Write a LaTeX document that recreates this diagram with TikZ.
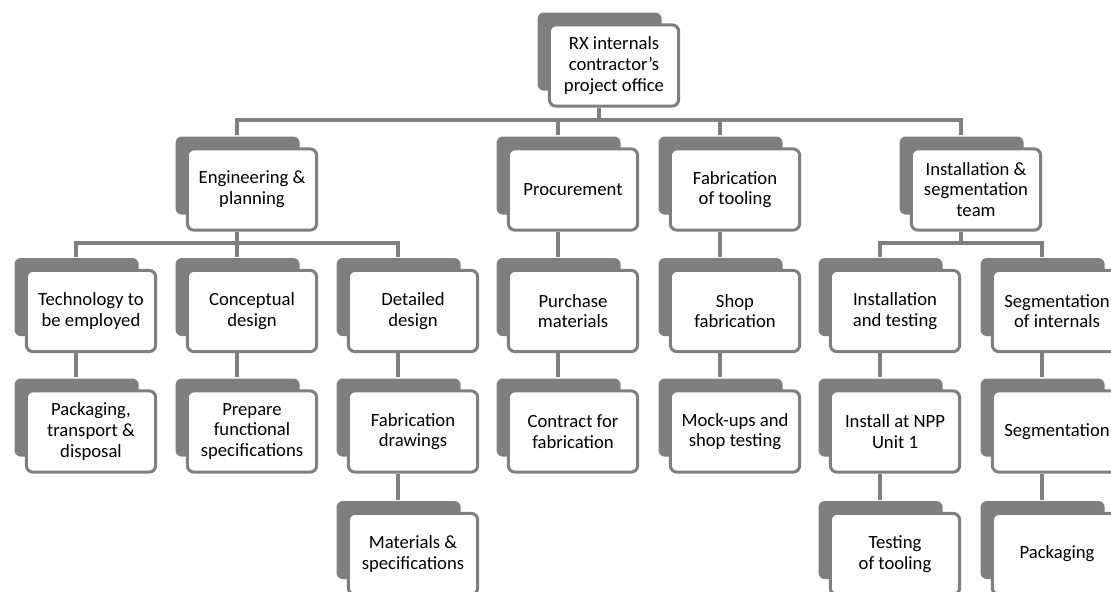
\documentclass[tikz,border=0pt]{standalone}
\usepackage{fontspec}
\setmainfont{Carlito}
\usetikzlibrary{shadows,calc}
\definecolor{boxgray}{RGB}{127,127,127}

\begin{document}
\begin{tikzpicture}[x=0.75pt,y=0.75pt,yscale=-1,xscale=1,
  card/.style={draw=boxgray, line width=2.25pt, fill=white, rounded corners=5pt,
    minimum width=97pt, minimum height=61pt, inner sep=0pt, align=center,
    font=\fontsize{14}{15.5}\selectfont,
    general shadow={fill=boxgray, shadow scale=0.96, shadow xshift=-11.25pt, shadow yshift=10.9pt}},
  link/.style={draw=boxgray, line width=3pt}]
\useasboundingbox (0,0) rectangle (1111,592);

% Level 1
\node[card] (top) at (614,65.5) {RX internals\\contractor’s\\project office};

% Level 2
\node[card] (eng) at (252,189.5) {Engineering \&\\planning};
\node[card] (proc) at (573,189.5) {Procurement};
\node[card] (fabt) at (735,189.5) {Fabrication\\of tooling};
\node[card] (inst) at (976,189.5) {Installation \&\\segmentation\\team};

% Level 3
\node[card] (tech) at (91,311) {Technology to\\be employed};
\node[card] (concept) at (252,311) {Conceptual\\design};
\node[card] (detail) at (413,311) {Detailed\\design};
\node[card] (purch) at (573,311) {Purchase\\materials};
\node[card] (shop) at (735,311) {Shop\\fabrication};
\node[card] (insttest) at (895,311) {Installation\\and testing};
\node[card] (segint) at (1057,311) {Segmentation\\of internals};

% Level 4
\node[card] (pack) at (91,431.5) {Packaging,\\transport \&\\disposal};
\node[card] (prep) at (252,431.5) {Prepare\\functional\\specifications};
\node[card] (fabd) at (413,431.5) {Fabrication\\drawings};
\node[card] (contract) at (573,431.5) {Contract for\\fabrication};
\node[card] (mock) at (735,431.5) {Mock-ups and\\shop testing};
\node[card] (npp) at (895,431.5) {Install at NPP\\Unit 1};
\node[card] (segm) at (1057,431.5) {Segmentation};

% Level 5
\node[card] (matspec) at (413,554) {Materials \&\\specifications};
\node[card] (testtool) at (895,554) {Testing\\of tooling};
\node[card] (packg) at (1057,554) {Packaging};

% connectors
\foreach \kid in {eng,proc,fabt,inst}
  \draw[link] ($(top.south)+(-15,0)$) -- ++(0,12) -| ($(\kid.north)+(-15,-12)$);
\foreach \kid in {tech,concept,detail}
  \draw[link] ($(eng.south)+(-15,0)$) -- ++(0,11) -| ($(\kid.north)+(-15,-12)$);
\foreach \kid in {insttest,segint}
  \draw[link] ($(inst.south)+(-15,0)$) -- ++(0,11) -| ($(\kid.north)+(-15,-12)$);
\foreach \up/\kid in {proc/purch,fabt/shop,tech/pack,concept/prep,detail/fabd,
    purch/contract,shop/mock,insttest/npp,segint/segm,fabd/matspec,npp/testtool,segm/packg}
  \draw[link] ($(\up.south)+(-15,0)$) -- ($(\kid.north)+(-15,-12)$);

\end{tikzpicture}
\end{document}
